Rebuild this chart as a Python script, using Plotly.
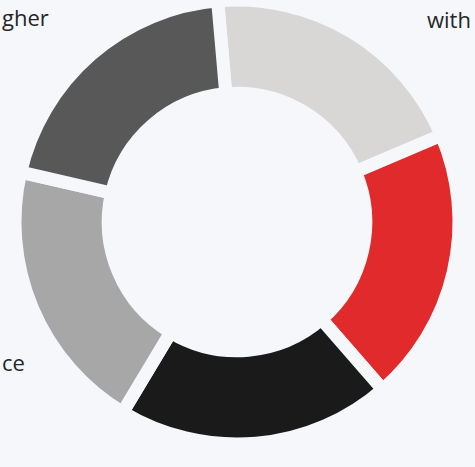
import plotly.graph_objects as go

stages = ["Stage 1", "Stage 2", "Stage 3", "Stage 4", "Stage 5"]
values = [1, 1, 1, 1, 1]
colors = ["#d9d7d5", "#e12a2b", "#1b1a1a", "#a7a7a7", "#585858"]
label_texts = ["gher", "with", "ce"]

W, H = 475, 467
bg = "#f5f7fa"
cx, cy, R = 237, 222, 222
tfont = dict(size=22, color="#262626", family="Open Sans, sans-serif")

fig = go.Figure(go.Pie(
    labels=stages, values=values, sort=False, direction="clockwise",
    rotation=-5, hole=0.58,
    marker=dict(colors=colors, line=dict(color=bg, width=13)),
    textinfo="none", hoverinfo="label",
    domain=dict(x=[(cx - R) / W, (cx + R) / W],
                y=[max(0, (H - cy - R) / H), min(1, (H - cy + R) / H)]),
    showlegend=False,
))

fig.add_annotation(x=0, y=1.0, xref="paper", yref="paper", xanchor="left", yanchor="top",
                   text=label_texts[0], showarrow=False, font=tfont)
fig.add_annotation(x=0.995, y=0.995, xref="paper", yref="paper", xanchor="right", yanchor="top",
                   text=label_texts[1], showarrow=False, font=tfont)
fig.add_annotation(x=0, y=0.225, xref="paper", yref="paper", xanchor="left", yanchor="middle",
                   text=label_texts[2], showarrow=False, font=tfont)

fig.update_layout(width=W, height=H, margin=dict(l=0, r=0, t=0, b=0),
                  paper_bgcolor=bg, plot_bgcolor=bg,
                  font=dict(family="Open Sans, sans-serif"))
fig.write_html("out.html", config={"displayModeBar": False},
               post_script="document.body.style.margin='0';document.body.style.overflow='hidden';document.body.style.background='%s';" % bg)
